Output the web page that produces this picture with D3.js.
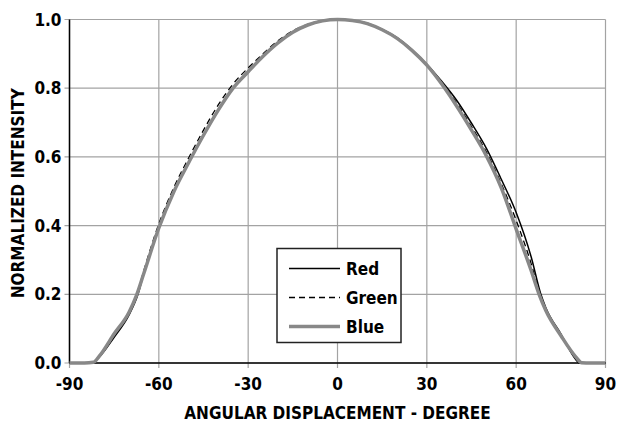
<!DOCTYPE html>
<html>
<head>
<meta charset="utf-8">
<script src="https://cdn.jsdelivr.net/npm/d3@7"></script>
<style>
  body { margin: 0; background: #fff; }
  text { font-family: "Liberation Sans Narrow", "DejaVu Sans Condensed", sans-serif; font-weight: bold; fill: #000; }
</style>
</head>
<body>
<svg id="chart" width="620" height="431"></svg>
<script>
// angles in degrees, intensity normalized
var redAngle  = [-90, -85, -82, -80, -75, -70, -67, -65, -60, -55, -50, -45, -40, -35, -30, -25, -20, -15, -10, -5, 0, 5, 10, 15, 20, 25, 30, 35, 40, 45, 50, 55, 60, 65, 68.3, 70, 75, 80, 81, 85, 90];
var redValue  = [0, 0, 0.002, 0.017, 0.075, 0.14, 0.2, 0.262, 0.394, 0.498, 0.583, 0.663, 0.737, 0.801, 0.849, 0.894, 0.933, 0.964, 0.985, 0.996, 1.0, 0.997, 0.989, 0.971, 0.947, 0.912, 0.87, 0.82, 0.765, 0.698, 0.625, 0.535, 0.438, 0.31, 0.2, 0.16, 0.085, 0.01, 0.001, 0, 0];

var greenAngle = [-90, -85, -82, -80, -75, -70, -67, -65, -60, -55, -50, -45, -40, -35, -30, -25, -20, -15, -10, -5, 0, 5, 10, 15, 20, 25, 30, 35, 40, 45, 50, 55, 60, 65, 68, 70, 75, 80, 82, 85, 90];
var greenValue = [0, 0, 0.002, 0.02, 0.084, 0.15, 0.21, 0.27, 0.405, 0.51, 0.597, 0.678, 0.752, 0.813, 0.859, 0.9, 0.938, 0.967, 0.986, 0.997, 1.0, 0.997, 0.988, 0.97, 0.946, 0.911, 0.869, 0.816, 0.757, 0.688, 0.614, 0.522, 0.415, 0.29, 0.2, 0.155, 0.083, 0.014, 0.001, 0, 0];

var blueAngle = [-90, -85, -82, -80, -75, -70, -67.5, -65, -60, -55, -50, -45, -40, -35, -30, -25, -20, -15, -10, -5, 0, 5, 10, 15, 20, 25, 30, 35, 40, 45, 50, 55, 60, 65, 67.7, 70, 75, 80, 82, 85, 90];
var blueValue = [0, 0, 0.002, 0.02, 0.085, 0.148, 0.197, 0.262, 0.393, 0.498, 0.583, 0.663, 0.737, 0.801, 0.848, 0.893, 0.932, 0.963, 0.984, 0.996, 1.0, 0.997, 0.988, 0.97, 0.945, 0.91, 0.867, 0.812, 0.748, 0.678, 0.603, 0.51, 0.39, 0.27, 0.2, 0.152, 0.08, 0.018, 0.001, 0, 0];

var xTicks = [-90, -60, -30, 0, 30, 60, 90];
var yTicks = [0, 0.2, 0.4, 0.6, 0.8, 1.0];
var seriesNames = ['Red', 'Green', 'Blue'];

var svg = d3.select('#chart');
var margin = {left: 69.5, right: 14.5, top: 19.5, bottom: 68};
var width = 620 - margin.left - margin.right;
var height = 431 - margin.top - margin.bottom;

var x = d3.scaleLinear().domain([-90, 90]).range([0, width]);
var y = d3.scaleLinear().domain([0, 1]).range([height, 0]);

var g = svg.append('g').attr('transform', 'translate(' + margin.left + ',' + margin.top + ')');

// grid + outward ticks
g.append('g').selectAll('line')
  .data(xTicks).enter().append('line')
  .attr('x1', function(d) { return x(d); })
  .attr('x2', function(d) { return x(d); })
  .attr('y1', 0).attr('y2', height + 5)
  .attr('stroke', '#a3a3a3').attr('stroke-width', 1.2);

g.append('g').selectAll('line')
  .data(yTicks).enter().append('line')
  .attr('x1', -5).attr('x2', width)
  .attr('y1', function(d) { return y(d); })
  .attr('y2', function(d) { return y(d); })
  .attr('stroke', '#a3a3a3').attr('stroke-width', 1.2);

// axis lines
g.append('line').attr('x1', 0).attr('x2', 0).attr('y1', 0).attr('y2', height)
  .attr('stroke', '#000').attr('stroke-width', 1.5);
g.append('line').attr('x1', 0).attr('x2', width).attr('y1', height).attr('y2', height)
  .attr('stroke', '#000').attr('stroke-width', 1.5);

// tick labels
g.append('g').selectAll('text')
  .data(xTicks).enter().append('text')
  .attr('x', function(d) { return x(d); })
  .attr('y', height + 27)
  .attr('text-anchor', 'middle')
  .style('font-size', '17px')
  .text(function(d) { return d; });

g.append('g').selectAll('text')
  .data(yTicks).enter().append('text')
  .attr('x', -8)
  .attr('y', function(d) { return y(d) + 6; })
  .attr('text-anchor', 'end')
  .style('font-size', '17px')
  .text(function(d) { return d3.format('.1f')(d); });

// axis titles
svg.append('text')
  .attr('x', margin.left + x(0))
  .attr('y', 419)
  .attr('text-anchor', 'middle')
  .style('font-size', '17px')
  .text('ANGULAR DISPLACEMENT - DEGREE');

svg.append('text')
  .attr('transform', 'translate(24,' + (margin.top + y(0.5) + 2) + ') rotate(-90)')
  .attr('text-anchor', 'middle')
  .style('font-size', '17px')
  .text('NORMALIZED INTENSITY');

// curves
var line = d3.line()
  .x(function(d) { return x(d[0]); })
  .y(function(d) { return y(d[1]); })
  .curve(d3.curveMonotoneX);

var styles = {
  Red:   {stroke: '#000', width: 1.5, dash: null},
  Green: {stroke: '#000', width: 1.3, dash: '6,4'},
  Blue:  {stroke: '#888', width: 3.5, dash: null}
};

var series = [
  {name: 'Red', pts: d3.zip(redAngle, redValue)},
  {name: 'Green', pts: d3.zip(greenAngle, greenValue)},
  {name: 'Blue', pts: d3.zip(blueAngle, blueValue)}
];

g.append('g').selectAll('path')
  .data(series).enter().append('path')
  .attr('d', function(d) { return line(d.pts); })
  .attr('fill', 'none')
  .attr('stroke', function(d) { return styles[d.name].stroke; })
  .attr('stroke-width', function(d) { return styles[d.name].width; })
  .attr('stroke-dasharray', function(d) { return styles[d.name].dash; });

// legend
var legend = svg.append('g').attr('transform', 'translate(277,248.5)');
legend.append('rect')
  .attr('width', 124).attr('height', 94)
  .attr('fill', '#fff').attr('stroke', '#222').attr('stroke-width', 1.5);

var item = legend.selectAll('.item')
  .data(seriesNames).enter().append('g')
  .attr('class', 'item')
  .attr('transform', function(d, i) { return 'translate(0,' + (20 + i * 29) + ')'; });

item.append('line')
  .attr('x1', 12).attr('x2', 63)
  .attr('y1', 0).attr('y2', 0)
  .attr('stroke', function(d) { return styles[d].stroke; })
  .attr('stroke-width', function(d) { return styles[d].width; })
  .attr('stroke-dasharray', function(d) { return styles[d].dash; });

item.append('text')
  .attr('x', 69).attr('y', 6)
  .style('font-size', '17px')
  .text(function(d) { return d; });
</script>
</body>
</html>
